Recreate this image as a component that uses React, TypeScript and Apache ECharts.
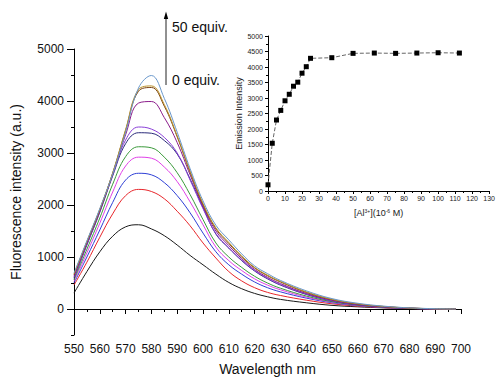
import React, { useEffect, useRef } from 'react';
import * as echarts from 'echarts';

const wavelengths = [550, 555, 560, 565, 570, 575, 580, 585, 590, 595, 600, 605, 610, 615, 620, 625, 630, 640, 650, 660, 670, 680, 690, 698];

const eq0 = [306, 720, 1100, 1400, 1580, 1620, 1540, 1410, 1230, 1030, 850, 670, 510, 390, 300, 235, 185, 120, 70, 42, 22, 9, 2, 0];
const eqRed = [460, 900, 1380, 1830, 2180, 2300, 2260, 2120, 1880, 1600, 1270, 980, 720, 540, 410, 320, 260, 170, 100, 55, 26, 10, 3, 0];
const eqBlue = [500, 1000, 1520, 2050, 2480, 2610, 2580, 2430, 2180, 1850, 1460, 1100, 850, 670, 520, 410, 330, 210, 120, 65, 30, 11, 3, 0];
const eqMagenta = [530, 1080, 1650, 2250, 2750, 2920, 2900, 2730, 2450, 2060, 1620, 1190, 930, 740, 580, 460, 370, 230, 130, 70, 33, 12, 3, 0];
const eqGreen = [560, 1150, 1750, 2400, 2930, 3120, 3100, 2920, 2620, 2200, 1720, 1270, 1000, 800, 630, 500, 400, 250, 140, 75, 36, 14, 4, 0];
const eqNavy = [590, 1230, 1860, 2560, 3180, 3390, 3380, 3240, 2980, 2500, 1950, 1440, 1170, 930, 730, 580, 460, 280, 155, 80, 40, 15, 4, 0];
const eqViolet = [610, 1250, 1880, 2580, 3250, 3500, 3460, 3300, 3000, 2480, 1930, 1450, 1180, 940, 740, 590, 470, 290, 160, 85, 42, 16, 4, 0];
const eqPurple = [630, 1270, 1890, 2600, 3350, 3960, 3990, 3680, 3200, 2580, 1980, 1500, 1220, 970, 760, 610, 490, 300, 170, 90, 45, 17, 4, 0];
const eqBrown = [660, 1290, 1910, 2610, 3430, 4190, 4260, 3900, 3310, 2630, 2010, 1540, 1260, 1000, 790, 640, 520, 320, 180, 95, 48, 18, 5, 0];
const eqOlive = [670, 1300, 1920, 2620, 3450, 4220, 4290, 3930, 3330, 2650, 2030, 1560, 1280, 1020, 800, 650, 530, 330, 185, 100, 50, 20, 5, 0];
const eq50 = [690, 1310, 1930, 2600, 3400, 4250, 4490, 4050, 3400, 2700, 2080, 1610, 1330, 1060, 830, 680, 550, 350, 200, 110, 55, 22, 6, 0];

const spectra = [eq0, eqRed, eqBlue, eqMagenta, eqGreen, eqNavy, eqViolet, eqPurple, eqBrown, eqOlive, eq50];
const spectraColors = ['#1a1a1a', '#e8262b', '#2e3fd6', '#e040e8', '#3a9a3a', '#2a2a7a', '#8a3fd8', '#8b1c8b', '#7a4010', '#b8902a', '#6a98cc'];

const titrationConc = [0, 2.5, 5, 7.5, 10, 12.5, 15, 17.5, 20, 22.5, 25, 37.5, 50, 62.5, 75, 87.5, 100, 112.5];
const titrationIntensity = [200, 1540, 2290, 2600, 2910, 3120, 3380, 3510, 3800, 4010, 4280, 4300, 4440, 4450, 4440, 4450, 4460, 4450];

const mainYMajor = [0, 1000, 2000, 3000, 4000, 5000];
const mainYMinor = [-500, 500, 1500, 2500, 3500, 4500];

const FONT = 'Liberation Sans, Arial, sans-serif';
const plain = (v: number) => String(v);

export default function App() {
  const ref = useRef<HTMLDivElement>(null);
  useEffect(() => {
    if (!ref.current) return;
    const chart = echarts.init(ref.current, undefined, { renderer: 'svg' });
    const axisLine = { show: true, lineStyle: { color: '#000', width: 1 } };
    const mainSeries = spectra.map((vals, i) => ({
      type: 'line',
      xAxisIndex: 0,
      yAxisIndex: 0,
      data: wavelengths.map((w, j) => [w, vals[j]]),
      showSymbol: false,
      smooth: 0.4,
      lineStyle: { width: 1, color: spectraColors[i] },
      itemStyle: { color: spectraColors[i] },
      z: 2 + i,
    }));
    chart.setOption({
      animation: false,
      textStyle: { fontFamily: FONT },
      grid: [
        { left: 74, top: 49, width: 387, height: 288 },
        { left: 268, top: 36, width: 225, height: 155 },
      ],
      xAxis: [
        {
          type: 'value', gridIndex: 0, min: 550, max: 700, interval: 10,
          axisLine,
          axisTick: { show: true, length: 5, lineStyle: { color: '#000' } },
          minorTick: { show: true, splitNumber: 2, length: 3, lineStyle: { color: '#000' } },
          splitLine: { show: false },
          axisLabel: { fontSize: 12, color: '#111', margin: 8, fontFamily: FONT, formatter: plain },
          name: 'Wavelength nm', nameLocation: 'middle', nameGap: 27,
          nameTextStyle: { fontSize: 14, color: '#111', fontFamily: FONT },
        },
        {
          type: 'value', gridIndex: 1, min: 0, max: 130, interval: 10,
          axisLine,
          axisTick: { show: true, length: 3, lineStyle: { color: '#000' } },
          minorTick: { show: true, splitNumber: 2, length: 2, lineStyle: { color: '#000' } },
          splitLine: { show: false },
          axisLabel: { fontSize: 7, color: '#222', margin: 4, fontFamily: FONT, formatter: plain },
          name: '[Al{sup|3+}](10{sup|-6} M)', nameLocation: 'middle', nameGap: 17,
          nameTextStyle: {
            fontSize: 9, color: '#222', fontFamily: FONT,
            rich: { sup: { fontSize: 5, verticalAlign: 'top', color: '#222', fontFamily: FONT } },
          },
        },
      ],
      yAxis: [
        {
          type: 'value', gridIndex: 0, min: -500, max: 5000, position: 'left', offset: 0,
          axisLine,
          axisTick: { show: true, length: 7, customValues: mainYMajor, lineStyle: { color: '#000' } },
          axisLabel: { fontSize: 12, color: '#111', margin: 10, customValues: mainYMajor, fontFamily: FONT, formatter: plain },
          splitLine: { show: false },
          name: 'Fluorescence intensity (a.u.)', nameLocation: 'middle', nameGap: 51,
          nameTextStyle: { fontSize: 14, color: '#111', fontFamily: FONT },
        },
        {
          type: 'value', gridIndex: 0, min: -500, max: 5000, position: 'left', offset: 0,
          axisLine: { show: false },
          axisTick: { show: true, length: 3, customValues: mainYMinor, lineStyle: { color: '#000' } },
          axisLabel: { show: false },
          splitLine: { show: false },
        },
        {
          type: 'value', gridIndex: 1, min: 0, max: 5000, interval: 500,
          axisLine,
          axisTick: { show: true, length: 3, lineStyle: { color: '#000' } },
          minorTick: { show: true, splitNumber: 2, length: 2, lineStyle: { color: '#000' } },
          splitLine: { show: false },
          axisLabel: { fontSize: 7, color: '#222', margin: 5, fontFamily: FONT, formatter: plain },
          name: 'Emission Intensity', nameLocation: 'middle', nameGap: 22,
          nameTextStyle: { fontSize: 9, color: '#222', fontFamily: FONT },
        },
      ],
      series: [
        ...mainSeries,
        {
          type: 'line',
          xAxisIndex: 1,
          yAxisIndex: 2,
          data: titrationConc.map((c, i) => [c, titrationIntensity[i]]),
          symbol: 'rect',
          symbolSize: 5,
          showSymbol: true,
          lineStyle: { type: 'dashed', color: '#666', width: 1 },
          itemStyle: { color: '#000' },
          z: 20,
        },
      ],
      graphic: [
        { type: 'line', shape: { x1: 166, y1: 85, x2: 166, y2: 17 }, style: { stroke: '#222', lineWidth: 1 } },
        { type: 'polygon', shape: { points: [[163.8, 19], [166, 11.5], [168.2, 19]] }, style: { fill: '#000' } },
        { type: 'text', x: 172, y: 27, style: { text: '50 equiv.', fontSize: 14, fontFamily: FONT, fill: '#111', verticalAlign: 'middle' } },
        { type: 'text', x: 172, y: 79.5, style: { text: '0 equiv.', fontSize: 14, fontFamily: FONT, fill: '#111', verticalAlign: 'middle' } },
      ],
    });
    return () => chart.dispose();
  }, []);
  return <div ref={ref} style={{ width: 498, height: 381, position: 'absolute', left: 0, top: 0 }} />;
}
